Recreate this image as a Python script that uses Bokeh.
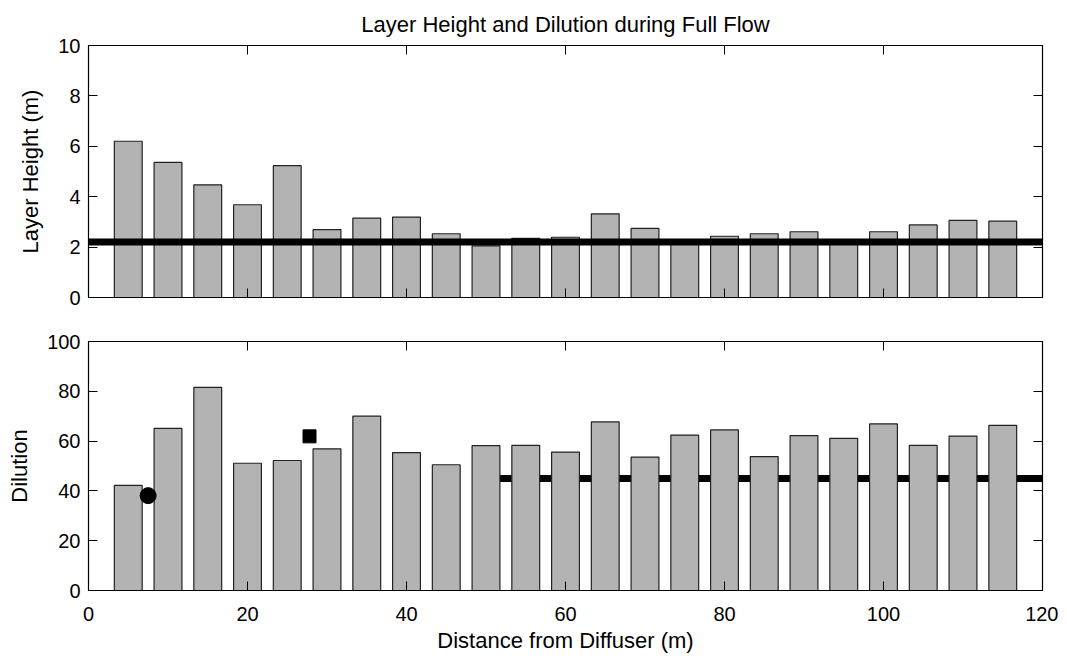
from bokeh.plotting import figure
from bokeh.layouts import column
from bokeh.models import Range1d, LinearAxis, FixedTicker, CustomJSTickFormatter
from bokeh.embed import file_html
from bokeh.resources import INLINE

# ---- data ----
distance = [5, 10, 15, 20, 25, 30, 35, 40, 45, 50, 55, 60,
            65, 70, 75, 80, 85, 90, 95, 100, 105, 110, 115]
layer_height = [6.20, 5.36, 4.47, 3.68, 5.23, 2.69, 3.15, 3.19, 2.53, 2.05, 2.35, 2.39,
                3.32, 2.74, 2.23, 2.43, 2.53, 2.61, 2.30, 2.61, 2.88, 3.06, 3.03]
dilution = [42.2, 65.1, 81.6, 51.1, 52.2, 56.9, 70.0, 55.4, 50.5, 58.2, 58.3, 55.6,
            67.7, 53.6, 62.4, 64.5, 53.8, 62.2, 61.1, 66.9, 58.3, 62.0, 66.3]
height_ref_x = [0, 120]
height_ref_y = [2.2, 2.2]
dil_ref_x = [50, 120]
dil_ref_y = [45, 45]
circle_x, circle_y = [7.5], [38.1]
square_x, square_y = [27.8], [61.9]

x_ticks = [0, 20, 40, 60, 80, 100, 120]
h_ticks = [0, 2, 4, 6, 8, 10]
d_ticks = [0, 20, 40, 60, 80, 100]

FONT = "Liberation Sans"
TICK_FS = "20px"
LAB_FS = "22px"
BAR_FILL = "#b3b3b3"


def style_axis(ax, ticks, labels=True, standoff=8):
    ax.ticker = FixedTicker(ticks=ticks)
    ax.major_tick_in = 9
    ax.major_tick_out = 0
    ax.minor_tick_line_color = None
    ax.axis_line_color = "black"
    ax.axis_line_width = 1.2
    ax.major_tick_line_color = "black"
    ax.major_label_text_font = FONT
    ax.major_label_text_font_size = TICK_FS
    ax.major_label_text_color = "black"
    ax.major_label_standoff = standoff
    ax.axis_label_text_font = FONT
    ax.axis_label_text_font_size = LAB_FS
    ax.axis_label_text_font_style = "normal"
    ax.axis_label_text_color = "black"
    if not labels:
        ax.formatter = CustomJSTickFormatter(code="return ''")


def make_fig(height, border_top, border_bottom, yr, yticks, ylabel, xr, xlabel):
    p = figure(width=1058, height=height, x_range=xr, y_range=yr,
               output_backend="svg", toolbar_location=None,
               x_axis_location=None, y_axis_location=None,
               min_border_left=88, min_border_right=16,
               min_border_top=border_top, min_border_bottom=border_bottom)
    p.xgrid.visible = False
    p.ygrid.visible = False
    p.outline_line_color = None
    p.background_fill_color = "white"
    p.border_fill_color = "white"

    bx = LinearAxis()
    style_axis(bx, x_ticks, labels=xlabel is not None, standoff=16)
    if xlabel is not None:
        bx.axis_label = xlabel
        bx.axis_label_standoff = 4
    p.add_layout(bx, "below")

    ly = LinearAxis()
    style_axis(ly, yticks, standoff=8)
    ly.axis_label = ylabel
    ly.axis_label_standoff = 12
    p.add_layout(ly, "left")

    ra = LinearAxis()
    style_axis(ra, yticks, labels=False)
    p.add_layout(ra, "right")
    ta = LinearAxis()
    style_axis(ta, x_ticks, labels=False, standoff=0)
    ta.axis_label_standoff = 0
    p.add_layout(ta, "above")
    return p


xr = Range1d(0, 120)

top = make_fig(308, 45, 11, Range1d(0, 10), h_ticks, "Layer Height (m)", xr, None)
top.title.text = "Layer Height and Dilution during Full Flow"
top.title.align = "center"
top.title.text_font = FONT
top.title.text_font_size = LAB_FS
top.title.text_font_style = "normal"
top.title.text_color = "black"
top.title.standoff = 18

top.vbar(x=distance, top=layer_height, bottom=0, width=3.5,
         fill_color=BAR_FILL, line_color="#222222", line_width=1.2)
top.line(height_ref_x, height_ref_y, line_color="black", line_width=7)

bot = make_fig(347, 33, 62, Range1d(0, 100), d_ticks, "Dilution", xr,
               "Distance from Diffuser (m)")
bot.line(dil_ref_x, dil_ref_y, line_color="black", line_width=7)
bot.vbar(x=distance, top=dilution, bottom=0, width=3.5,
         fill_color=BAR_FILL, line_color="#222222", line_width=1.2)
bot.scatter(circle_x, circle_y, marker="circle", size=16, fill_color="black", line_color="black")
bot.scatter(square_x, square_y, marker="square", size=13, fill_color="black", line_color="black")

layout = column(top, bot)
open("out.html", "w").write(file_html(layout, INLINE))
